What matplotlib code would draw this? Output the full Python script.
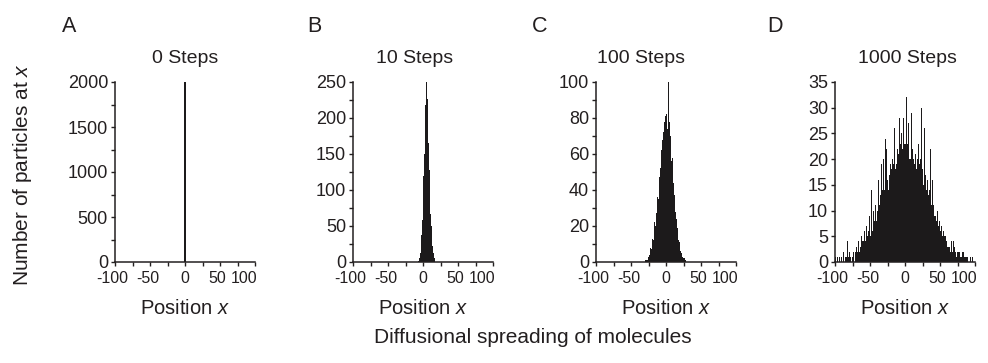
import matplotlib
matplotlib.use("Agg")
import matplotlib.pyplot as plt
import matplotlib.transforms as mtransforms
import numpy as np
from matplotlib.ticker import MultipleLocator

plt.rcParams['font.family'] = ['Liberation Sans', 'DejaVu Sans']
plt.rcParams['mathtext.fontset'] = 'custom'
plt.rcParams['mathtext.rm'] = 'Liberation Sans'
plt.rcParams['mathtext.it'] = 'Liberation Sans:italic'

INK = '#231f20'
BAR = '#1c1a1b'

# ---------------- data ----------------
panel_letters = ['A', 'B', 'C', 'D']
panel_titles = ['0 Steps', '10 Steps', '100 Steps', '1000 Steps']
x_label = 'Position $x$'
y_label = 'Number of particles at $x$'
fig_caption = 'Diffusional spreading of molecules'

# Panel A: all particles at the origin
a_positions = [0]
a_counts = [2000]

# Panel B: 10 steps (counts per unit bin, starting at position b_start)
b_start = -6
b_counts = [2, 6, 12, 25, 38, 58, 85, 120, 150, 196, 218, 250, 226, 205,
            165, 128, 100, 66, 50, 35, 22, 12, 6, 2]

# Panel C: 100 steps
c_start = -30
c_counts = [0, 1, 1, 2, 1, 3, 4, 5, 8, 7,
            11, 13, 12, 18, 22, 20, 27, 33, 36, 35,
            44, 47, 52, 58, 62, 68, 72, 70, 78, 81,
            70, 82, 74, 86, 100, 78, 70, 65, 56, 58,
            46, 44, 37, 33, 28, 24, 19, 16, 12, 11,
            8, 6, 5, 4, 3, 2, 2, 1, 1, 0, 1]

# Panel D: 1000 steps
d_start = -100
d_counts = [0, 1, 0, 1, 1, 0, 1, 1, 0, 1,
            1, 0, 2, 1, 0, 1, 1, 2, 4, 1,
            0, 2, 1, 3, 0, 1, 2, 1, 0, 2,
            1, 3, 2, 1, 4, 2, 3, 2, 5, 4,
            5, 4, 6, 5, 4, 7, 5, 8, 6, 9,
            15, 5, 14, 7, 6, 10, 8, 9, 11, 8,
            17, 10, 16, 12, 11, 13, 19, 12, 14, 20,
            25, 14, 24, 15, 22, 16, 14, 23, 17, 19,
            25, 18, 20, 17, 19, 26, 18, 21, 19, 22,
            27, 21, 28, 22, 23, 25, 22, 21, 28, 23,
            24, 23, 32, 25, 23, 27, 20, 21, 20, 29,
            19, 22, 20, 32, 19, 21, 18, 25, 20, 23,
            18, 19, 20, 31, 30, 18, 15, 18, 26, 17,
            15, 14, 16, 20, 13, 14, 22, 12, 11, 16,
            10, 11, 9, 12, 9, 8, 10, 14, 7, 8,
            11, 6, 7, 7, 5, 6, 5, 9, 5, 4,
            5, 3, 3, 5, 3, 2, 4, 5, 2, 4,
            2, 3, 2, 3, 1, 2, 2, 1, 2, 1,
            2, 1, 2, 1, 2, 1, 1, 0, 1, 1,
            0, 0, 0, 1, 1, 0, 1, 1, 0, 0, 0]

y_max = [2000, 250, 100, 35]
y_major = [500, 50, 20, 5]
y_minor = [250, 25, 10, None]
x_ticks = [-100, -50, 0, 50, 100]

# ---------------- layout ----------------
W, H = 988, 363
fig = plt.figure(figsize=(W / 100, H / 100), dpi=100)

ax_left_px = [115, 353, 596, 835]
ax_top_px, ax_bot_px, ax_w_px = 82, 262, 140
letter_x_px = [62, 307, 532, 767]
title_x_px = [185, 415, 641, 907]


def fx(px):
    return px / W


def fy(py):
    return 1 - py / H


def shift(px):
    return mtransforms.ScaledTranslation(px / 100, 0, fig.dpi_scale_trans)


axes = []
for i in range(4):
    ax = fig.add_axes([fx(ax_left_px[i]), fy(ax_bot_px),
                       fx(ax_w_px), (ax_bot_px - ax_top_px) / H])
    axes.append(ax)

# panel A
axes[0].bar(a_positions, a_counts, width=3, color=BAR, linewidth=0)

# histogram panels
for ax, start, counts in [(axes[1], b_start, b_counts),
                          (axes[2], c_start, c_counts),
                          (axes[3], d_start, d_counts)]:
    counts = np.asarray(counts, dtype=float)
    edges = np.arange(start, start + len(counts) + 1) - 0.5
    ax.stairs(counts, edges, fill=True, color=BAR, linewidth=0)

for i, ax in enumerate(axes):
    ax.set_xlim(-100, 100)
    ax.set_ylim(0, y_max[i])
    for s in ['top', 'right']:
        ax.spines[s].set_visible(False)
    for s in ['left', 'bottom']:
        ax.spines[s].set_linewidth(1.1)
        ax.spines[s].set_color(INK)
    ax.xaxis.set_minor_locator(MultipleLocator(25))
    ax.yaxis.set_major_locator(MultipleLocator(y_major[i]))
    if y_minor[i]:
        ax.yaxis.set_minor_locator(MultipleLocator(y_minor[i]))
    ax.tick_params(which='both', direction='out', length=3, width=1.0,
                   color=INK, labelcolor=INK)
    ax.tick_params(axis='x', which='major', pad=3.2, labelsize=11.5)
    ax.tick_params(axis='y', which='major', pad=2, labelsize=13)
    ax.set_xticks(x_ticks)
    xl = ax.set_xticklabels([str(t) for t in x_ticks])
    xl[0].set_transform(xl[0].get_transform() + shift(-3))
    xl[1].set_transform(xl[1].get_transform() + shift(-2))
    xl[3].set_transform(xl[3].get_transform() + shift(-3))
    xl[-1].set_horizontalalignment('right')
    xl[-1].set_transform(xl[-1].get_transform() + shift(2))
    ax.patch.set_alpha(0)

    fig.text(fx(letter_x_px[i]), fy(32), panel_letters[i], fontsize=15.5,
             color=INK, ha='left', va='baseline')
    fig.text(fx(title_x_px[i]), fy(63), panel_titles[i], fontsize=14,
             color=INK, ha='center', va='baseline')
    fig.text(fx(ax_left_px[i] + ax_w_px / 2), fy(314), x_label, fontsize=14.5,
             color=INK, ha='center', va='baseline')

fig.text(fx(23), fy(174), y_label, rotation=90, fontsize=15, color=INK,
         ha='center', va='center')
fig.text(fx(533), fy(343), fig_caption, fontsize=15, color=INK,
         ha='center', va='baseline')

fig.savefig('out.png', dpi=100, facecolor='white')
